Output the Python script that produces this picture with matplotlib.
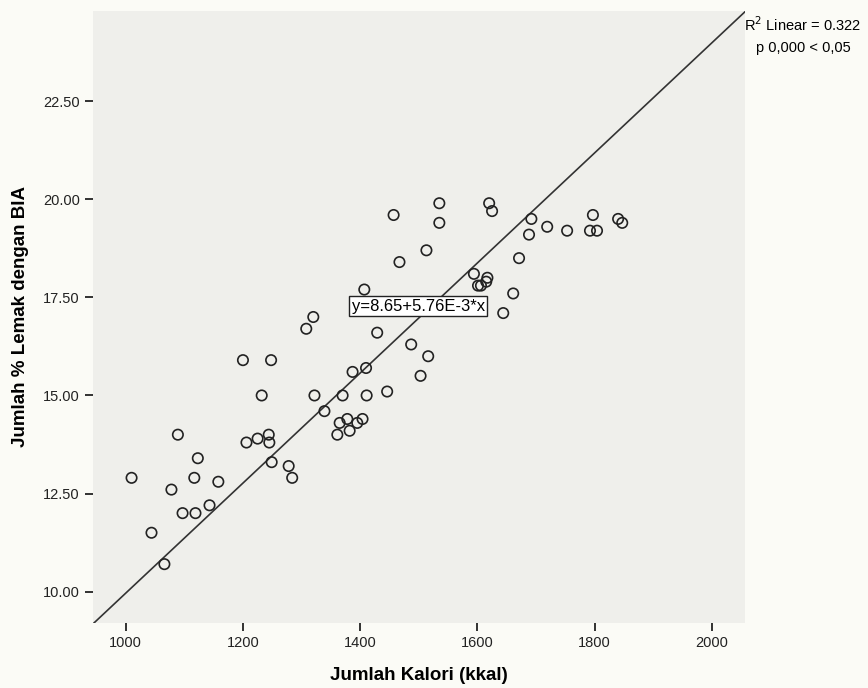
import matplotlib.pyplot as plt

# Kalori (kkal) vs % lemak (BIA)
kalori = [1457, 1535, 1535, 1620, 1625, 1692, 1797, 1840, 1847, 1719,
          1753, 1688, 1792, 1804, 1513, 1467, 1671, 1594, 1617, 1615,
          1601, 1606, 1661, 1644, 1429, 1487, 1516, 1503, 1407, 1320,
          1308, 1387, 1410, 1322, 1370, 1411, 1446, 1339, 1365, 1378,
          1395, 1404, 1361, 1382, 1232, 1200, 1248, 1089, 1244, 1225,
          1206, 1245, 1123, 1249, 1278, 1284, 1010, 1117, 1158, 1078,
          1143, 1097, 1119, 1044, 1066]
lemak = [19.6, 19.9, 19.4, 19.9, 19.7, 19.5, 19.6, 19.5, 19.4, 19.3,
         19.2, 19.1, 19.2, 19.2, 18.7, 18.4, 18.5, 18.1, 18.0, 17.9,
         17.8, 17.8, 17.6, 17.1, 16.6, 16.3, 16.0, 15.5, 17.7, 17.0,
         16.7, 15.6, 15.7, 15.0, 15.0, 15.0, 15.1, 14.6, 14.3, 14.4,
         14.3, 14.4, 14.0, 14.1, 15.0, 15.9, 15.9, 14.0, 14.0, 13.9,
         13.8, 13.8, 13.4, 13.3, 13.2, 12.9, 12.9, 12.9, 12.8, 12.6,
         12.2, 12.0, 12.0, 11.5, 10.7]

# fit line as drawn in the chart
line_a = -4.07
line_b = 0.01403
eq_label = "y=8.65+5.76E-3*x"
eq_pos = (1499, 17.28)

x_ticks = [1000, 1200, 1400, 1600, 1800, 2000]
y_ticks = [10.0, 12.5, 15.0, 17.5, 20.0, 22.5]

plt.rcParams['font.family'] = ['Liberation Sans', 'DejaVu Sans']

fig = plt.figure(figsize=(8.68, 6.88), dpi=100, facecolor='#fbfbf6')
ax = fig.add_axes([0.107, 0.0945, 0.751, 0.8895])
ax.set_facecolor('#efefeb')

ax.scatter(kalori, lemak, s=56, facecolors='none', edgecolors='#222222',
           linewidths=1.2, zorder=3)
ax.axline((0, line_a), slope=line_b, color='#333333', lw=1.2, zorder=2)

ax.text(eq_pos[0], eq_pos[1], eq_label, fontsize=12, ha='center', va='center',
        zorder=4, bbox=dict(boxstyle='square,pad=0.15', fc='white', ec='#222222', lw=1))

ax.set_xlim(944, 2056)
ax.set_ylim(9.2, 24.8)
ax.set_xticks(x_ticks)
ax.set_yticks(y_ticks)
ax.set_yticklabels(['%.2f' % v for v in y_ticks])
ax.tick_params(axis='both', direction='out', length=6, width=1.3,
               color='#222222', labelsize=10.5, labelcolor='#222222')

for s in ax.spines.values():
    s.set_visible(False)

ax.set_xlabel('Jumlah Kalori (kkal)', fontsize=13.5, fontweight='bold', labelpad=12)
ax.set_ylabel('Jumlah % Lemak dengan BIA', fontsize=13.5, fontweight='bold', labelpad=10)

fig.text(0.857, 0.9637, 'R$^2$ Linear = 0.322', fontsize=10.5, ha='left', va='center')
fig.text(0.926, 0.930, 'p 0,000 < 0,05', fontsize=10.5, ha='center', va='center')

plt.savefig('out.png', dpi=100, facecolor=fig.get_facecolor())
